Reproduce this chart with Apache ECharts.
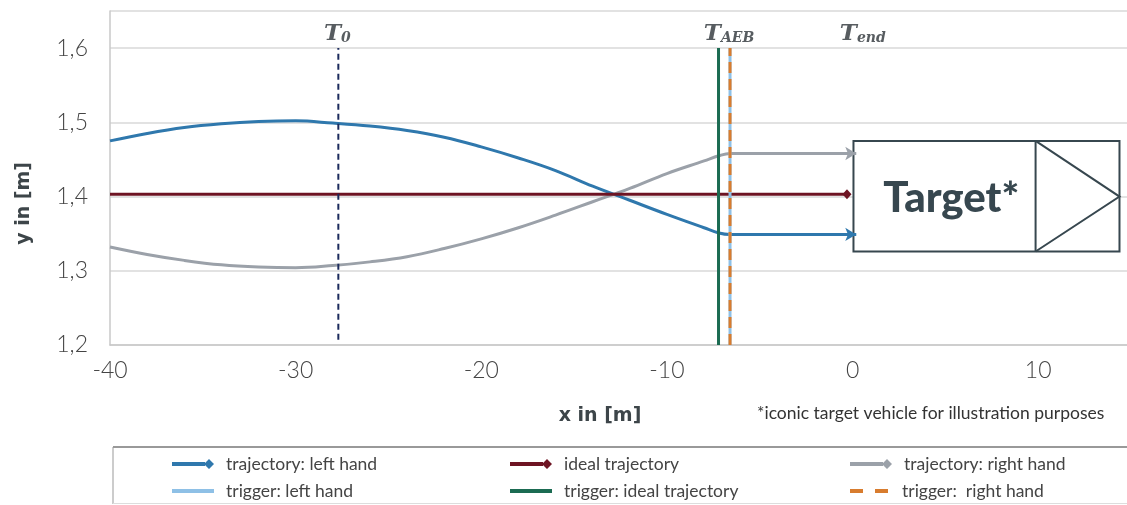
<!DOCTYPE html>
<html><head><meta charset="utf-8">
<script src="https://cdn.jsdelivr.net/npm/echarts@6/dist/echarts.min.js"></script>
<style>html,body{margin:0;padding:0;background:#fff}#c{width:1127px;height:505px}</style>
</head><body><div id="c"></div>
<script>
// ---- data ----
const xLeft   = [-40,-38,-36,-34,-32,-30,-28,-26,-24,-22,-20,-18,-16,-14,-12,-10,-8,-7.2,-6.6];
const yLeft   = [1.475,1.485,1.493,1.498,1.501,1.502,1.499,1.495,1.489,1.480,1.467,1.452,1.435,1.414,1.395,1.376,1.358,1.351,1.349];
const yRight  = [1.332,1.322,1.314,1.308,1.305,1.304,1.307,1.312,1.319,1.330,1.343,1.358,1.375,1.393,1.411,1.431,1.448,1.455,1.458];
const endLeft  = [0.2, 1.349];
const endRight = [0.2, 1.458];
const idealX = [-40, -0.3];
const idealY = 1.403;
const triggerT0 = -27.7;
const triggerIdeal = -7.22;
const triggerLeft = -6.6;
const triggerRight = -6.6;
const triggerY = [1.2, 1.6];
const t0Y = [1.207, 1.6];
const timeLabels = ['T|0', 'T|AEB', 'T|end'];
const timeLabelX = [-27.75, -6.65, 0.55];
const targetX = [0.05, 9.86, 14.38];   // left edge, divider, right edge
const targetY = [1.475, 1.400, 1.326]; // top, middle, bottom
const targetTextPos = [5.32, 1.397];
const xTicks = {min: -40, max: 15, interval: 10};
const yTicks = {min: 1.2, max: 1.65, interval: 0.1};

const C = {blue:'#2f78ad', red:'#6e1423', gray:'#9ba1a9', green:'#1b6b52', lblue:'#8ec0e6', orange:'#d87c2e', navy:'#1b2a5c', box:'#37474f'};

function withEnd(xs, ys, end) {
  const d = xs.map((x, i) => [x, ys[i]]);
  d.push({value: end, symbol: 'arrow', symbolSize: [10, 11], symbolRotate: -90});
  return d;
}

const ICON_DIAMOND = 'path://M0,3 L33,3 L33,7 L0,7 Z M32,5 L37,0 L42,5 L37,10 Z';
const ICON_LINE = 'path://M0,0 L0.01,0 L0,0.01 Z M0,3 L42,3 L42,7 L0,7 Z M0,10 L0.01,10 L0,9.99 Z';
const ICON_DASH = 'path://M0,0 L0.01,0 L0,0.01 Z M0,3 L13,3 L13,7 L0,7 Z M25,3 L38,3 L38,7 L25,7 Z M0,10 L0.01,10 L0,9.99 Z';

const legendText = {fontFamily: 'Lato', fontSize: 17.5, color: '#444', padding: [0,0,0,6]};
function mkLegend(left, top, name, icon) {
  return {left: left, top: top, orient: 'horizontal', itemWidth: 44, itemHeight: 10,
    selectedMode: false, itemStyle: {borderWidth: 0}, textStyle: legendText, data: [{name: name, icon: icon}]};
}

const chart = echarts.init(document.getElementById('c'), null, {renderer: 'canvas'});
const option = {
  animation: false,
  grid: {left: 110, right: -4, top: 11, bottom: 160, containLabel: false, outerBoundsMode: 'none'},
  xAxis: {type: 'value', min: xTicks.min, max: xTicks.max, interval: xTicks.interval,
    axisLine: {show: true, onZero: false, lineStyle: {color: '#c8c8c8', width: 1.5}},
    axisTick: {show: false}, splitLine: {show: false},
    axisLabel: {margin: 14, showMaxLabel: false, fontFamily: 'Lato', fontWeight: 300, fontSize: 23, color: '#444'}},
  yAxis: {type: 'value', min: yTicks.min, max: yTicks.max, interval: yTicks.interval,
    axisLine: {show: true, onZero: false, lineStyle: {color: '#c8c8c8', width: 1.5}},
    axisTick: {show: false}, splitLine: {show: true, lineStyle: {color: '#d9d9d9', width: 1.5}},
    axisLabel: {margin: 22, showMaxLabel: false, fontFamily: 'Lato', fontWeight: 300, fontSize: 23, color: '#444',
      formatter: v => v.toFixed(1).replace('.', ',')}},
  legend: [
    mkLegend(167, 450, 'trajectory: left hand', ICON_DIAMOND),
    mkLegend(167, 477, 'trigger: left hand', ICON_LINE),
    mkLegend(505, 450, 'ideal trajectory', ICON_DIAMOND),
    mkLegend(505, 477, 'trigger: ideal trajectory', ICON_LINE),
    mkLegend(845, 450, 'trajectory: right hand', ICON_DIAMOND),
    mkLegend(845, 477, 'trigger:  right hand', ICON_DASH)
  ],
  graphic: [
    {type: 'line', shape: {x1: 113, y1: 447, x2: 1127, y2: 447}, style: {stroke: '#777', lineWidth: 1.5}},
    {type: 'line', shape: {x1: 113, y1: 447, x2: 113, y2: 504}, style: {stroke: '#999', lineWidth: 1}},
    {type: 'line', shape: {x1: 113, y1: 503.5, x2: 1127, y2: 503.5}, style: {stroke: '#ddd', lineWidth: 1}},
    {type: 'text', left: 15, top: 162, rotation: Math.PI / 2,
      style: {text: 'y in [m]', fontFamily: 'DejaVu Sans', fontWeight: 'bold', fontSize: 19, fill: '#3d4549'}},
    {type: 'text', x: 600, y: 416, style: {text: 'x in [m]', fontFamily: 'DejaVu Sans', fontWeight: 'bold', fontSize: 19, fill: '#3d4549', align: 'center', verticalAlign: 'middle'}},
    {type: 'text', x: 757, y: 413, style: {text: '*iconic target vehicle for illustration purposes', fontFamily: 'Lato', fontSize: 17.5, fill: '#333', align: 'left', verticalAlign: 'middle'}}
  ],
  series: [
    {type: 'custom', name: 'target', silent: true, clip: false, z: 2,
      data: [[targetX[0], targetY[0]]],
      renderItem: function (params, api) {
        const tl = api.coord([targetX[0], targetY[0]]);
        const br = api.coord([targetX[2], targetY[2]]);
        const dv = api.coord([targetX[1], targetY[1]]);
        const ap = api.coord([targetX[2], targetY[1]]);
        const tp = api.coord(targetTextPos);
        const st = {stroke: C.box, lineWidth: 2, fill: null};
        return {type: 'group', children: [
          {type: 'rect', shape: {x: tl[0], y: tl[1], width: br[0] - tl[0], height: br[1] - tl[1]}, style: {fill: '#fff', stroke: C.box, lineWidth: 2}},
          {type: 'line', shape: {x1: dv[0], y1: tl[1], x2: dv[0], y2: br[1]}, style: st},
          {type: 'polyline', shape: {points: [[dv[0], tl[1]], [ap[0], ap[1]], [dv[0], br[1]]]}, style: st},
          {type: 'text', x: tp[0], y: tp[1], style: {text: 'Target*', fontFamily: 'Lato', fontWeight: 900, fontSize: 42, fill: C.box, align: 'center', verticalAlign: 'middle'}}
        ]};
      }},
    {type: 'line', name: 'trajectory: left hand', data: withEnd(xLeft, yLeft, endLeft), smooth: 0.4,
      symbol: 'none', showSymbol: true, color: C.blue, itemStyle: {color: C.blue}, lineStyle: {color: C.blue, width: 3}, z: 3},
    {type: 'line', name: 'trajectory: right hand', data: withEnd(xLeft, yRight, endRight), smooth: 0.4,
      symbol: 'none', showSymbol: true, color: C.gray, itemStyle: {color: C.gray}, lineStyle: {color: C.gray, width: 3}, z: 3},
    {type: 'line', name: 'ideal trajectory',
      data: [[idealX[0], idealY], {value: [idealX[1], idealY], symbol: 'diamond', symbolSize: [9, 10]}],
      symbol: 'none', showSymbol: true, color: C.red, itemStyle: {color: C.red}, lineStyle: {color: C.red, width: 3}, z: 3},
    {type: 'line', name: 'T0 line', data: [[triggerT0, t0Y[0]], [triggerT0, t0Y[1]]], symbol: 'none',
      color: C.navy, lineStyle: {color: C.navy, width: 2, type: [6, 4]}, z: 4},
    {type: 'line', name: 'trigger: ideal trajectory', data: [[triggerIdeal, triggerY[0]], [triggerIdeal, triggerY[1]]], symbol: 'none',
      color: C.green, itemStyle: {color: C.green}, lineStyle: {color: C.green, width: 3}, z: 4},
    {type: 'line', name: 'trigger: left hand', data: [[triggerLeft, triggerY[0]], [triggerLeft, triggerY[1]]], symbol: 'none',
      color: C.lblue, itemStyle: {color: C.lblue}, lineStyle: {color: C.lblue, width: 3}, z: 4},
    {type: 'line', name: 'trigger:  right hand', data: [[triggerRight, triggerY[0]], [triggerRight, triggerY[1]]], symbol: 'none',
      color: C.orange, itemStyle: {color: C.orange}, lineStyle: {color: C.orange, width: 3, type: [11, 6]}, z: 5},
    {type: 'scatter', name: 'time labels', silent: true, symbolSize: 0, z: 6,
      data: timeLabelX.map((x, i) => ({value: [x, triggerY[1]], name: timeLabels[i]})),
      label: {show: true, position: 'top', distance: 3,
        formatter: p => { const s = p.name.split('|'); return '{t|' + s[0] + '}{s|' + s[1] + '}'; },
        rich: {
          t: {fontFamily: 'DejaVu Serif', fontStyle: 'italic', fontWeight: 'bold', fontSize: 23, color: '#2d3338', verticalAlign: 'bottom', lineHeight: 26},
          s: {fontFamily: 'DejaVu Serif', fontStyle: 'italic', fontWeight: 'bold', fontSize: 14, color: '#2d3338', verticalAlign: 'bottom', lineHeight: 12}
        }}}
  ]
};
chart.setOption(option);
</script></body></html>
